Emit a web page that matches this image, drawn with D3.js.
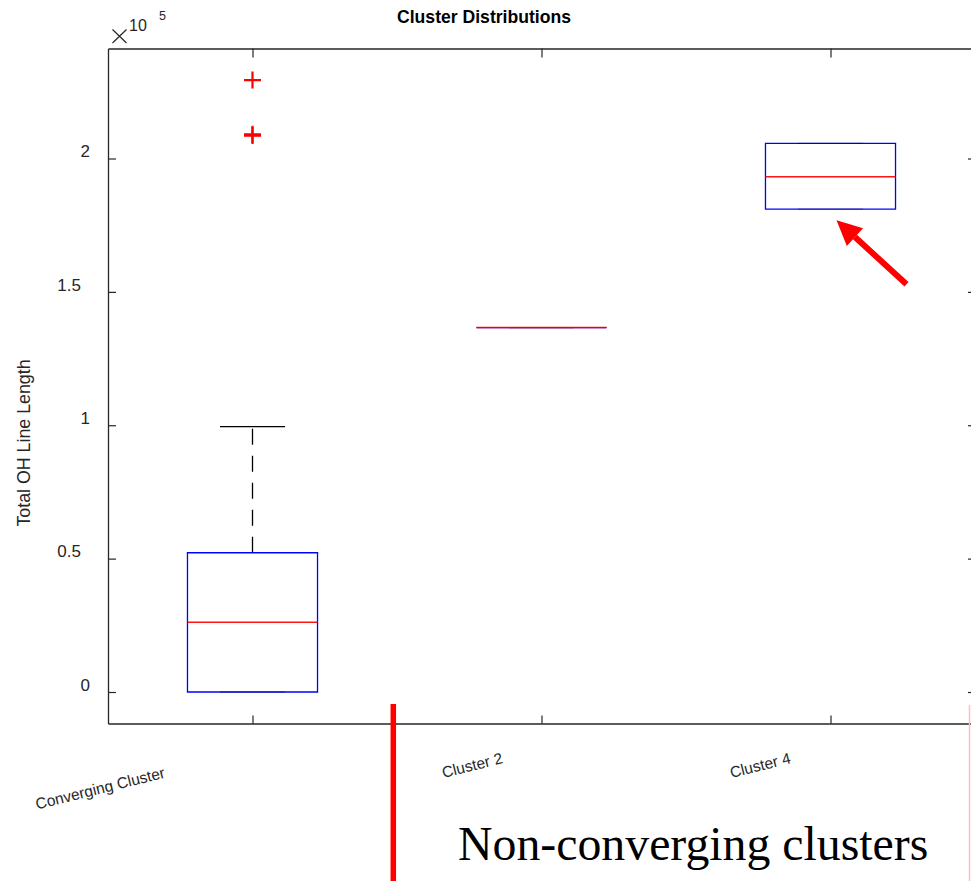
<!DOCTYPE html>
<html>
<head>
<meta charset="utf-8">
<script src="https://cdn.jsdelivr.net/npm/d3@7"></script>
<style>
  html, body { margin: 0; padding: 0; background: #fff; }
  svg { display: block; }
</style>
</head>
<body>
<svg id="chart" width="971" height="881"></svg>
<script>
// ---- data ----
const categories   = ["Converging Cluster", "Cluster 2", "Cluster 4"];
const q1Values     = [0,        1.366e5, 1.810e5];
const medianValues = [0.2613e5, 1.366e5, 1.932e5];
const q3Values     = [0.522e5,  1.366e5, 2.057e5];
const whiskerLow   = [0,        1.366e5, 1.810e5];
const whiskerHigh  = [0.995e5,  1.366e5, 2.057e5];
const outlierValues = [[2.294e5, 2.091e5, 2.086e5], [], []];
const yTickValues  = [0, 0.5e5, 1e5, 1.5e5, 2e5];
const yTickLabels  = ["0", "0.5", "1", "1.5", "2"];
const titleText    = "Cluster Distributions";
const yLabelText   = "Total OH Line Length";
const annotationText = "Non-converging clusters";

// ---- layout ----
const svg = d3.select("#chart");
const pLeft = 108, pRight = 975, pTop = 48.5, pBottom = 723.5;
const axisColor = "#262626";

const x = d3.scaleLinear().domain([0.5, 3.5]).range([pLeft, pRight]);
const y = d3.scaleLinear().domain([-0.1181e5, 2.4124e5]).range([pBottom, pTop]);
const boxW = 0.45, capW = 0.225;

// axes
const gLeft = svg.append("g").attr("transform", `translate(${pLeft},0)`)
  .call(d3.axisLeft(y).tickValues(yTickValues).tickSizeInner(-8).tickSizeOuter(0)
        .tickPadding(18).tickFormat((d, i) => yTickLabels[i]));
const gRight = svg.append("g").attr("transform", `translate(${pRight},0)`)
  .call(d3.axisRight(y).tickValues(yTickValues).tickSizeInner(-7).tickSizeOuter(0).tickFormat(""));
const gBottom = svg.append("g").attr("transform", `translate(0,${pBottom})`)
  .call(d3.axisBottom(x).tickValues([1, 2, 3]).tickSizeInner(-8).tickSizeOuter(0).tickFormat(""));
const gTop = svg.append("g").attr("transform", `translate(0,${pTop})`)
  .call(d3.axisTop(x).tickValues([1, 2, 3]).tickSizeInner(-9).tickSizeOuter(0).tickFormat(""));

[gLeft, gRight, gBottom, gTop].forEach(g => {
  g.selectAll("path.domain").attr("stroke", axisColor).attr("stroke-width", 1.3);
  g.selectAll(".tick line").attr("stroke", axisColor).attr("stroke-width", 1.2);
});
gLeft.selectAll(".tick text")
  .attr("font-family", "Liberation Sans, Arial, sans-serif")
  .attr("font-size", 17)
  .attr("fill", axisColor)
  .attr("dy", "-0.1em")
  .attr("x", d => (String(yTickLabels[yTickValues.indexOf(d)]).includes(".") ? -27 : -18));

// x tick labels (rotated)
const labelOffsets = [[-152, 66], [-69, 43], [-70, 43]];
svg.append("g").selectAll("text").data(categories).join("text")
  .attr("transform", (d, i) => `translate(${x(i + 1) + labelOffsets[i][0]},${pBottom + labelOffsets[i][1]}) rotate(-14)`)
  .attr("text-anchor", "middle")
  .attr("dominant-baseline", "middle")
  .attr("font-family", "Liberation Sans, Arial, sans-serif")
  .attr("font-size", 15.5)
  .attr("fill", axisColor)
  .text(d => d);

// exponent: ×10^5
const expG = svg.append("g").attr("font-family", "Liberation Sans, Arial, sans-serif").attr("fill", axisColor);
expG.append("path").attr("d", "M112.5,29.5L126.5,43M126.5,29.5L112.5,43")
  .attr("stroke", axisColor).attr("stroke-width", 1.2).attr("fill", "none");
expG.append("text").attr("x", 129).attr("y", 31).attr("font-size", 16).text("10");
expG.append("text").attr("x", 159).attr("y", 20).attr("font-size", 12.5).text("5");

// title
svg.append("text").attr("x", 484).attr("y", 23).attr("text-anchor", "middle")
  .attr("font-family", "Liberation Sans, Arial, sans-serif").attr("font-weight", "bold")
  .attr("font-size", 17.6).attr("fill", "#000").text(titleText);

// y label
svg.append("text").attr("transform", "translate(30,443) rotate(-90)")
  .attr("text-anchor", "middle")
  .attr("font-family", "Liberation Sans, Arial, sans-serif")
  .attr("font-size", 17.8).attr("fill", axisColor).text(yLabelText);

// ---- boxplots ----
const plot = svg.append("g");
categories.forEach((c, i) => {
  const cx = x(i + 1);
  const bx0 = x(i + 1 - boxW / 2), bx1 = x(i + 1 + boxW / 2);
  const cx0 = x(i + 1 - capW / 2), cx1 = x(i + 1 + capW / 2);
  if (whiskerHigh[i] > q3Values[i]) {
    plot.append("line").attr("x1", cx).attr("x2", cx)
      .attr("y1", y(q3Values[i])).attr("y2", y(whiskerHigh[i]))
      .attr("stroke", "#000").attr("stroke-width", 1.3).attr("stroke-dasharray", "16,11");
  }
  if (whiskerLow[i] < q1Values[i]) {
    plot.append("line").attr("x1", cx).attr("x2", cx)
      .attr("y1", y(q1Values[i])).attr("y2", y(whiskerLow[i]))
      .attr("stroke", "#000").attr("stroke-width", 1.3).attr("stroke-dasharray", "16,11");
  }
  plot.append("path")
    .attr("d", `M${bx0},${y(q1Values[i])}L${bx1},${y(q1Values[i])}L${bx1},${y(q3Values[i])}L${bx0},${y(q3Values[i])}Z`)
    .attr("fill", "none").attr("stroke", "#0000FF").attr("stroke-width", 1.3);
  [whiskerHigh[i], whiskerLow[i]].forEach(v => {
    const onBox = (v === q1Values[i] || v === q3Values[i]);
    plot.append("line").attr("x1", cx0).attr("x2", cx1).attr("y1", y(v)).attr("y2", y(v))
      .attr("stroke", "#000").attr("stroke-width", 1.3).attr("stroke-opacity", onBox ? 0.3 : 1);
  });
  plot.append("line").attr("x1", bx0).attr("x2", bx1)
    .attr("y1", y(medianValues[i])).attr("y2", y(medianValues[i]))
    .attr("stroke", "#FF0000").attr("stroke-width", 1.5).attr("stroke-opacity", 0.92);
  outlierValues[i].forEach(v => {
    plot.append("path")
      .attr("d", `M${cx - 8.5},${y(v)}H${cx + 8.5}M${cx},${y(v) - 8.5}V${y(v) + 8.5}`)
      .attr("stroke", "#FF0000").attr("stroke-width", 2.2).attr("fill", "none");
  });
});

// ---- annotations ----
const tipX = x(3) + 6, tipY = y(q1Values[2]) + 11;
const tailX = tipX + 70, tailY = tipY + 64;
const ang = Math.atan2(tipY - tailY, tipX - tailX);
const headLen = 25, headHalf = 12;
const baseX = tipX - headLen * Math.cos(ang), baseY = tipY - headLen * Math.sin(ang);
svg.append("line").attr("x1", tailX).attr("y1", tailY).attr("x2", baseX).attr("y2", baseY)
  .attr("stroke", "#FF0000").attr("stroke-width", 6);
svg.append("path")
  .attr("d", `M${tipX},${tipY}L${baseX + headHalf * Math.sin(ang)},${baseY - headHalf * Math.cos(ang)}L${baseX - headHalf * Math.sin(ang)},${baseY + headHalf * Math.cos(ang)}Z`)
  .attr("fill", "#FF0000");

svg.append("line").attr("x1", 393.3).attr("x2", 393.3).attr("y1", 704).attr("y2", 881)
  .attr("stroke", "#FF0000").attr("stroke-width", 5.5);
svg.append("line").attr("x1", 969.5).attr("x2", 969.5).attr("y1", 705).attr("y2", 881)
  .attr("stroke", "#FFBDBD").attr("stroke-width", 1.5);

svg.append("text").attr("x", 458).attr("y", 860)
  .attr("font-family", "Liberation Serif, 'Times New Roman', serif")
  .attr("font-size", 47.8).attr("fill", "#000").text(annotationText);
</script>
</body>
</html>
